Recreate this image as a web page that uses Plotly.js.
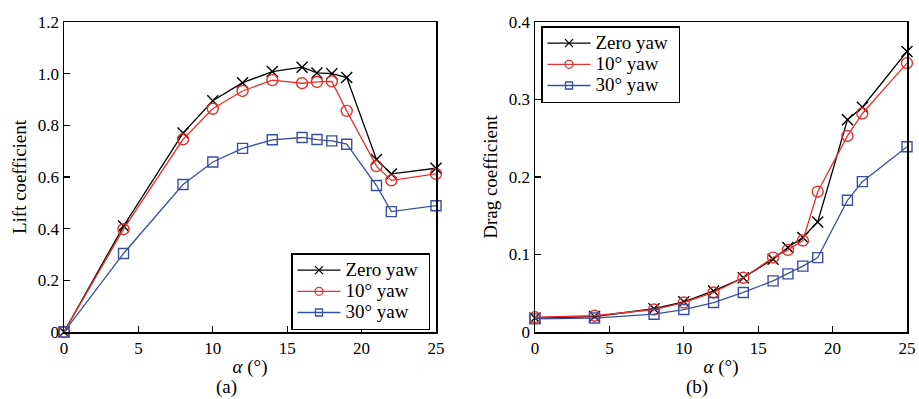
<!DOCTYPE html>
<html>
<head>
<meta charset="utf-8">
<script src="https://cdn.plot.ly/plotly-3.0.1.min.js"></script>
<style>html,body{margin:0;padding:0;background:#fff;}#chart{width:919px;height:399px;}</style>
</head>
<body>
<div id="chart"></div>
<script>
const alpha = [0, 4, 8, 10, 12, 14, 16, 17, 18, 19, 21, 22, 25];
const liftZero = [0, 0.41, 0.77, 0.895, 0.965, 1.008, 1.025, 1.003, 1.0, 0.985, 0.668, 0.612, 0.634];
const lift10 = [0, 0.398, 0.746, 0.864, 0.933, 0.975, 0.963, 0.968, 0.97, 0.856, 0.642, 0.587, 0.612];
const lift30 = [0, 0.304, 0.571, 0.658, 0.711, 0.744, 0.753, 0.745, 0.74, 0.727, 0.567, 0.466, 0.489];
const dragZero = [0.018, 0.02, 0.03, 0.039, 0.053, 0.07, 0.094, 0.109, 0.122, 0.142, 0.274, 0.29, 0.362];
const drag10 = [0.019, 0.021, 0.029, 0.038, 0.051, 0.07, 0.096, 0.106, 0.118, 0.181, 0.253, 0.282, 0.347];
const drag30 = [0.017, 0.018, 0.023, 0.029, 0.038, 0.051, 0.066, 0.075, 0.085, 0.096, 0.17, 0.194, 0.239];
const seriesNames = ["Zero yaw", "10° yaw", "30° yaw"];
const xTicks = [0, 5, 10, 15, 20, 25];
const liftTicks = [0, 0.2, 0.4, 0.6, 0.8, 1.0, 1.2];
const liftTickText = ["0", "0.2", "0.4", "0.6", "0.8", "1.0", "1.2"];
const dragTicks = [0, 0.1, 0.2, 0.3, 0.4];
const dragTickText = ["0", "0.1", "0.2", "0.3", "0.4"];

const colors = ["#000000", "#e8312c", "#3a4fa2"];
const symbols = ["x-thin-open", "circle-open", "square-open"];
const sizes = [11, 11, 10];
const legSizes = [8, 8, 7];
const FONT = "Liberation Serif, Times New Roman, serif";

const traces = [];
const liftData = [liftZero, lift10, lift30];
const dragData = [dragZero, drag10, drag30];
for (let i = 0; i < 3; i++) {
  traces.push({x: alpha, y: liftData[i], xaxis: 'x', yaxis: 'y', mode: 'lines+markers', showlegend: false,
    cliponaxis: false,
    line: {color: colors[i], width: 1.3},
    marker: {symbol: symbols[i], size: sizes[i], color: colors[i], line: {color: colors[i], width: 1.4}}});
  traces.push({x: alpha, y: dragData[i], xaxis: 'x2', yaxis: 'y2', mode: 'lines+markers', showlegend: false,
    cliponaxis: false,
    line: {color: colors[i], width: 1.3},
    marker: {symbol: symbols[i], size: sizes[i], color: colors[i], line: {color: colors[i], width: 1.4}}});
}
for (let i = 0; i < 3; i++) {
  const label = '<span style="font-size:19px">' + seriesNames[i] + '&nbsp;</span>';
  traces.push({x: [null], y: [null], xaxis: 'x', yaxis: 'y', mode: 'lines+markers', name: label, legend: 'legend',
    line: {color: colors[i], width: 1.3},
    marker: {symbol: symbols[i], size: legSizes[i], color: colors[i], line: {color: colors[i], width: 1.3}}});
  traces.push({x: [null], y: [null], xaxis: 'x2', yaxis: 'y2', mode: 'lines+markers', name: label, legend: 'legend2',
    line: {color: colors[i], width: 1.3},
    marker: {symbol: symbols[i], size: legSizes[i], color: colors[i], line: {color: colors[i], width: 1.3}}});
}

const axisCommon = {
  showline: true, mirror: true, linecolor: '#000', linewidth: 1.5,
  ticks: 'inside', ticklen: 6, tickwidth: 1.2, tickcolor: '#000',
  showgrid: false, zeroline: false,
  tickfont: {family: FONT, size: 17, color: '#000'}
};

const layout = {
  width: 919, height: 399,
  margin: {l: 0, r: 0, t: 0, b: 0},
  paper_bgcolor: '#fff', plot_bgcolor: '#fff',
  font: {family: FONT, color: '#000'},
  xaxis: Object.assign({}, axisCommon, {domain: [64/919, 436/919], range: [0, 25], tickvals: xTicks, anchor: 'y',
    title: {text: '<i>α</i> (°)', font: {family: FONT, size: 19}, standoff: 3}}),
  yaxis: Object.assign({}, axisCommon, {domain: [67/399, 377/399], range: [0, 1.2], tickvals: liftTicks, ticktext: liftTickText, anchor: 'x',
    title: {text: 'Lift coefficient', font: {family: FONT, size: 19}, standoff: 6}}),
  xaxis2: Object.assign({}, axisCommon, {domain: [535/919, 907/919], range: [0, 25], tickvals: xTicks, anchor: 'y2',
    title: {text: '<i>α</i> (°)', font: {family: FONT, size: 19}, standoff: 3}}),
  yaxis2: Object.assign({}, axisCommon, {domain: [67/399, 377/399], range: [0, 0.4], tickvals: dragTicks, ticktext: dragTickText, anchor: 'x2',
    title: {text: 'Drag coefficient', font: {family: FONT, size: 19}, standoff: 6}}),
  legend: {x: 291/919, y: (399-253)/399, xanchor: 'left', yanchor: 'top', bgcolor: '#fff', bordercolor: '#000', borderwidth: 1.5,
    font: {family: FONT, size: 14, color: '#000'}, tracegroupgap: 0, itemwidth: 43},
  legend2: {x: 541/919, y: (399-26)/399, xanchor: 'left', yanchor: 'top', bgcolor: '#fff', bordercolor: '#000', borderwidth: 1.5,
    font: {family: FONT, size: 14, color: '#000'}, tracegroupgap: 0, itemwidth: 43},
  annotations: [
    {text: '(a)', xref: 'paper', yref: 'paper', x: 226/919, y: 0, xanchor: 'center', yanchor: 'bottom', showarrow: false, borderpad: 0,
      font: {family: FONT, size: 19, color: '#000'}},
    {text: '(b)', xref: 'paper', yref: 'paper', x: 697/919, y: 0, xanchor: 'center', yanchor: 'bottom', showarrow: false, borderpad: 0,
      font: {family: FONT, size: 19, color: '#000'}}
  ]
};

Plotly.newPlot('chart', traces, layout, {staticPlot: true, displayModeBar: false});
</script>
</body>
</html>
